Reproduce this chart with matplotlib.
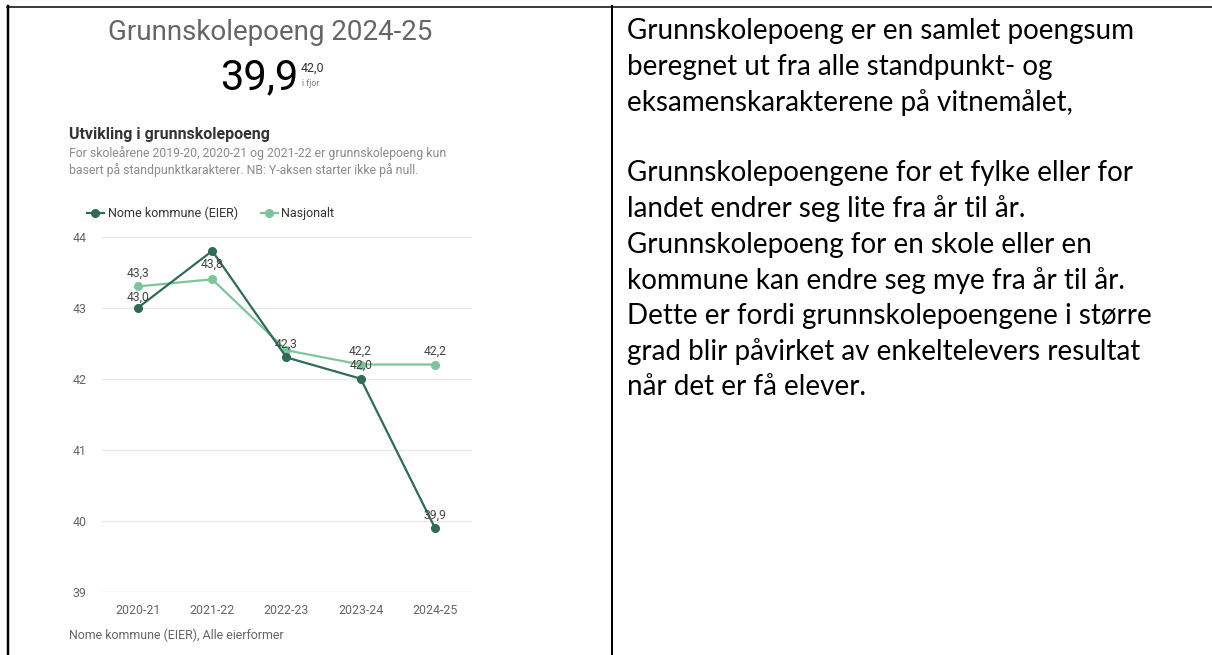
import numpy as np
import matplotlib
matplotlib.use('Agg')
import matplotlib.pyplot as plt
from matplotlib.lines import Line2D

# data
years = ['2020-21', '2021-22', '2022-23', '2023-24', '2024-25']
nome = [43.0, 43.8, 42.3, 42.0, 39.9]
nasjonalt = [43.3, 43.4, 42.4, 42.2, 42.2]
nome_labels = ['43,0', '43,8', '42,3', '42,0', '39,9']
nasj_labels = ['43,3', None, None, '42,2', '42,2']
yticks = [39, 40, 41, 42, 43, 44]

W, H = 1212, 655
fig = plt.figure(figsize=(W / 100, H / 100), dpi=100)
plt.rcParams['font.family'] = ['Roboto', 'DejaVu Sans']


def px(x, y):
    return x / W, 1 - y / H


# table borders
for xs, ys, lw in [((8, 8), (6, 655), 2.5), ((7, 1212), (6.5, 6.5), 1.5), ((611.5, 611.5), (6, 655), 2.0)]:
    p0 = px(xs[0], ys[0])
    p1 = px(xs[1], ys[1])
    fig.add_artist(Line2D([p0[0], p1[0]], [p0[1], p1[1]], color='black', lw=lw * 0.72,
                          transform=fig.transFigure))

# header (scorecard)
fig.text(*px(270, 33), 'Grunnskolepoeng 2024-25', ha='center', va='center', fontsize=20, color='#666666')
fig.text(*px(298, 78), '39,9', ha='right', va='center', fontsize=30, color='black')
fig.text(*px(301, 68), '42,0', ha='left', va='center', fontsize=9, color='#333333')
fig.text(*px(302, 84), 'i fjor', ha='left', va='center', fontsize=6.3, color='#777777')

fig.text(*px(69, 135), 'Utvikling i grunnskolepoeng', ha='left', va='center', fontsize=11.5,
         fontweight='bold', color='#333333')
fig.text(*px(69, 153), 'For skoleårene 2019-20, 2020-21 og 2021-22 er grunnskolepoeng kun',
         ha='left', va='center', fontsize=8.8, color='#8a8a8a')
fig.text(*px(69, 170), 'basert på standpunktkarakterer. NB: Y-aksen starter ikke på null.',
         ha='left', va='center', fontsize=8.8, color='#8a8a8a')

c_nome = '#2f6b57'
c_nasj = '#7cc59a'

# chart
l, r = 102, 472
t, b = 236.7, 591.7
ax = fig.add_axes([l / W, 1 - b / H, (r - l) / W, (b - t) / H])
x = np.arange(len(years))
ax.plot(x, nasjonalt, color=c_nasj, lw=1.6, marker='o', ms=5.5, zorder=3, label='Nasjonalt')
ax.plot(x, nome, color=c_nome, lw=1.6, marker='o', ms=5.5, zorder=4, label='Nome kommune (EIER)')
ax.set_xlim(-0.485, 4.5)
ax.set_ylim(39, 44)
for v in yticks:
    ax.axhline(v, color='#ccd3f0' if v == 39 else '#e8e8e8', lw=1.0, zorder=1)
for s in ax.spines.values():
    s.set_visible(False)
ax.set_yticks(yticks)
ax.set_xticks(x)
ax.set_xticklabels(years)
ax.tick_params(length=0, labelsize=8.9, labelcolor='#666666')
ax.tick_params(axis='x', pad=9)
ax.tick_params(axis='y', pad=11)

nome_off = [10, -13, 13, 13, 13]
nasj_off = [13, 0, 0, 13, 13]
for i in range(len(years)):
    ax.annotate(nome_labels[i], (x[i], nome[i]), xytext=(0, nome_off[i]), textcoords='offset pixels',
                ha='center', va='center', fontsize=8.7, color='#444444', zorder=5)
    if nasj_labels[i]:
        ax.annotate(nasj_labels[i], (x[i], nasjonalt[i]), xytext=(0, nasj_off[i]), textcoords='offset pixels',
                    ha='center', va='center', fontsize=8.7, color='#444444', zorder=5)

# legend drawn by hand
for (mx, tx, col, lab) in [(95, 108, c_nome, 'Nome kommune (EIER)'), (269, 281.5, c_nasj, 'Nasjonalt')]:
    a, yy = px(mx - 8.5, 213)
    bx, _ = px(mx + 8.5, 213)
    fig.add_artist(Line2D([a, bx], [yy, yy], color=col, lw=1.6, transform=fig.transFigure))
    fig.add_artist(Line2D([px(mx, 213)[0]], [yy], color=col, marker='o', ms=5.5, transform=fig.transFigure))
    fig.text(*px(tx, 213), lab, ha='left', va='center', fontsize=9, color='#333333')

fig.text(*px(69, 635), 'Nome kommune (EIER), Alle eierformer', ha='left', va='center', fontsize=8.9,
         color='#666666')

# right column text
lines = [
    'Grunnskolepoeng er en samlet poengsum',
    'beregnet ut fra alle standpunkt- og',
    'eksamenskarakterene på vitnemålet,',
    '',
    'Grunnskolepoengene for et fylke eller for',
    'landet endrer seg lite fra år til år.',
    'Grunnskolepoeng for en skole eller en',
    'kommune kan endre seg mye fra år til år.',
    'Dette er fordi grunnskolepoengene i større',
    'grad blir påvirket av enkeltelevers resultat',
    'når det er få elever.',
]
for k, line in enumerate(lines):
    if line:
        fig.text(*px(627, 31 + 35.6 * k), line, ha='left', va='center', fontsize=20,
                 family=['Lato', 'DejaVu Sans'], color='black')

fig.savefig('out.png', dpi=100)
